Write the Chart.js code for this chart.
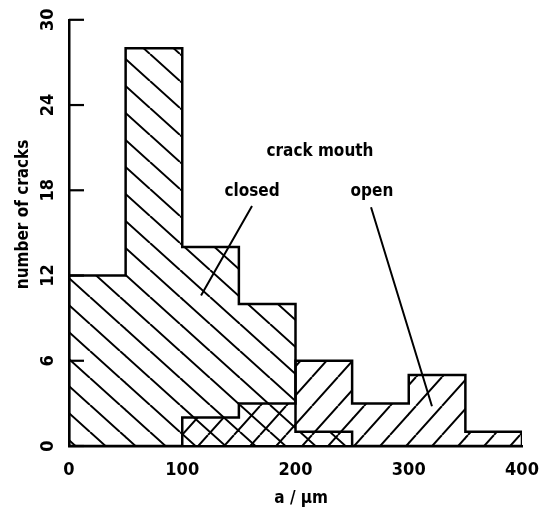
<!DOCTYPE html>
<html>
<head>
<meta charset="utf-8">
<script src="https://cdn.jsdelivr.net/npm/chart.js@4/dist/chart.umd.min.js"></script>
<style>
  html, body { margin: 0; padding: 0; background: #fff; }
  #wrap { width: 543px; height: 508px; position: relative; }
</style>
</head>
<body>
<div id="wrap"><canvas id="c" width="543" height="508"></canvas></div>
<script>
// ---- data ----
const binEdges = [0, 50, 100, 150, 200, 250, 300, 350, 400];   // a / µm
const closedCounts = [12, 28, 14, 10, 1, 0, 0, 0];            // crack mouth closed
const openCounts   = [0, 0, 2, 3, 6, 3, 5, 1];                // crack mouth open
const yTickValues = [0, 6, 12, 18, 24, 30];
const xTickValues = [0, 100, 200, 300, 400];
const seriesNames = ['closed', 'open'];
const headerLabel = 'crack mouth';
const xTitle = 'a / µm';
const yTitle = 'number of cracks';

const FONT = "'Liberation Sans Narrow', 'DejaVu Sans Condensed', 'Liberation Sans', sans-serif";

function hatch(w, h, dir) {
  const c = document.createElement('canvas');
  c.width = w; c.height = h;
  const g = c.getContext('2d');
  g.strokeStyle = '#000';
  g.lineWidth = 2;
  g.beginPath();
  for (let k = -1; k <= 1; k++) {
    if (dir === 'back') { g.moveTo(k * w, 0); g.lineTo(k * w + w, h); }
    else { g.moveTo(k * w, h); g.lineTo(k * w + w, 0); }
  }
  g.stroke();
  return g.createPattern(c, 'repeat');
}

function barPoints(counts) {
  const out = [];
  counts.forEach((v, i) => { if (v > 0) out.push({ x: (binEdges[i] + binEdges[i + 1]) / 2, y: v }); });
  return out;
}
function outline(counts) {
  const pts = [{ x: binEdges[0], y: 0 }];
  counts.forEach((v, i) => { pts.push({ x: binEdges[i], y: v }); pts.push({ x: binEdges[i + 1], y: v }); });
  pts.push({ x: binEdges[binEdges.length - 1], y: 0 });
  return pts;
}

const annot = {
  id: 'annot',
  afterDraw(chart) {
    const { ctx, scales: { x, y }, chartArea } = chart;
    ctx.save();
    // inward major ticks on y axis
    ctx.strokeStyle = '#000';
    ctx.lineWidth = 2.2;
    yTickValues.forEach(v => {
      const py = y.getPixelForValue(v);
      ctx.beginPath(); ctx.moveTo(chartArea.left, py); ctx.lineTo(chartArea.left + 15, py); ctx.stroke();
    });
    // leader lines
    ctx.lineWidth = 2;
    ctx.beginPath();
    ctx.moveTo(x.getPixelForValue(161.6), y.getPixelForValue(16.9));
    ctx.lineTo(x.getPixelForValue(116.6), y.getPixelForValue(10.6));
    ctx.moveTo(x.getPixelForValue(266.7), y.getPixelForValue(16.8));
    ctx.lineTo(x.getPixelForValue(320.5), y.getPixelForValue(2.8));
    ctx.stroke();
    // labels
    ctx.fillStyle = '#000';
    ctx.font = 'bold 17px ' + FONT;
    ctx.textAlign = 'center';
    ctx.textBaseline = 'middle';
    ctx.fillText(headerLabel, x.getPixelForValue(221.6), y.getPixelForValue(20.75));
    ctx.fillText(seriesNames[0], x.getPixelForValue(161.6), y.getPixelForValue(17.9));
    ctx.fillText(seriesNames[1], x.getPixelForValue(267.5), y.getPixelForValue(17.9));
    // axis titles
    ctx.fillText(xTitle, x.getPixelForValue(205), 499);
    ctx.translate(24, y.getPixelForValue(16.3));
    ctx.rotate(-Math.PI / 2);
    ctx.fillText(yTitle, 0, 0);
    ctx.restore();
  }
};

new Chart(document.getElementById('c'), {
  type: 'bar',
  data: {
    datasets: [
      { label: seriesNames[0], data: barPoints(closedCounts), backgroundColor: hatch(30, 27, 'back'), borderWidth: 0, grouped: false, barPercentage: 1, categoryPercentage: 1, order: 3 },
      { label: seriesNames[1], data: barPoints(openCounts), backgroundColor: hatch(26, 29, 'fwd'), borderWidth: 0, grouped: false, barPercentage: 1, categoryPercentage: 1, order: 2 },
      { type: 'line', label: seriesNames[0] + ' outline', data: outline(closedCounts), borderColor: '#000', borderWidth: 2.5, pointRadius: 0, fill: false, tension: 0, order: 1 },
      { type: 'line', label: seriesNames[1] + ' outline', data: outline(openCounts), borderColor: '#000', borderWidth: 2.5, pointRadius: 0, fill: false, tension: 0, order: 0 }
    ]
  },
  options: {
    responsive: false,
    animation: false,
    devicePixelRatio: 1,
    layout: { padding: { top: 11, right: 21, left: 0, bottom: 0 } },
    plugins: { legend: { display: false }, tooltip: { enabled: false } },
    scales: {
      x: {
        type: 'linear', min: 0, max: 400, offset: false,
        afterBuildTicks: s => { s.ticks = xTickValues.map(v => ({ value: v })); },
        afterFit: s => { s.height = 62; },
        grid: { display: false, drawTicks: true, tickLength: 14, offset: false },
        border: { display: true, color: '#000', width: 2.5 },
        ticks: { color: '#000', padding: 0, maxRotation: 0, font: { family: FONT, size: 18, weight: 'bold' } }
      },
      y: {
        min: 0, max: 30,
        afterBuildTicks: s => { s.ticks = yTickValues.map(v => ({ value: v })); },
        afterFit: s => { s.width = 69; },
        grid: { display: false, drawTicks: false },
        border: { display: true, color: '#000', width: 2.5 },
        ticks: { color: '#000', padding: 9, minRotation: 90, maxRotation: 90, crossAlign: 'center', font: { family: FONT, size: 18, weight: 'bold' } }
      }
    }
  },
  plugins: [annot]
});
</script>
</body>
</html>
